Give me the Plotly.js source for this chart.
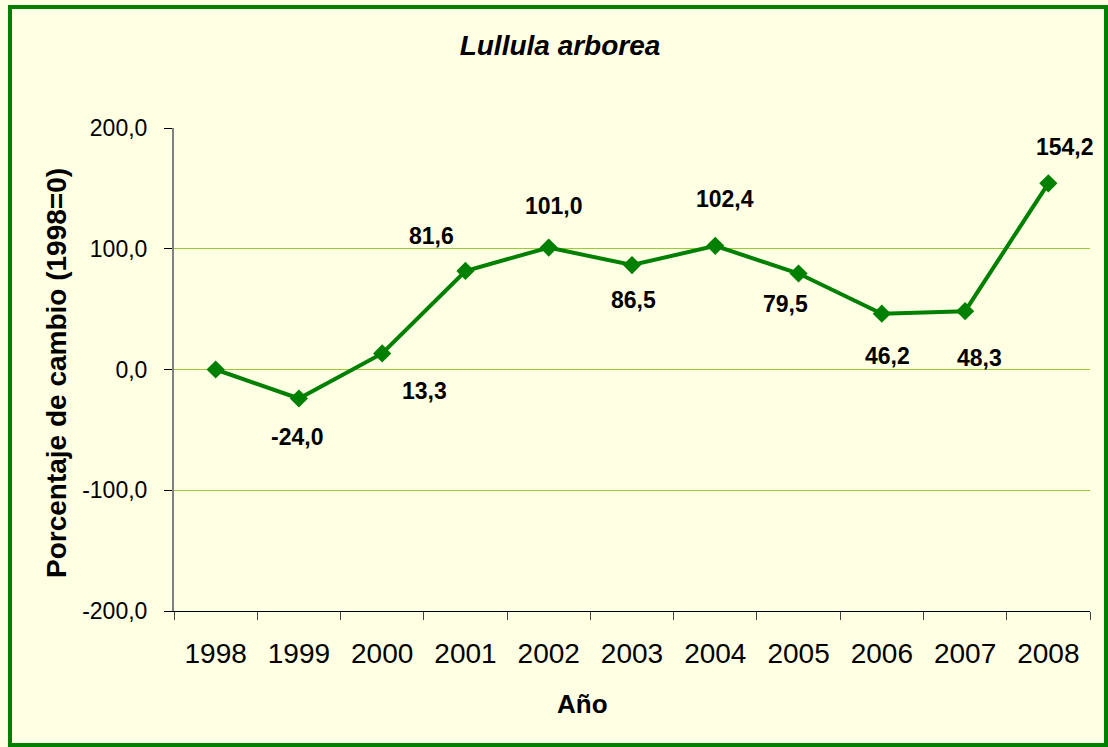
<!DOCTYPE html>
<html>
<head>
<meta charset="utf-8">
<script src="https://cdn.plot.ly/plotly-3.0.1.min.js"></script>
<style>
html,body{margin:0;padding:0;background:#FFFFE4;}
#chart{width:1108px;height:747px;}
</style>
</head>
<body>
<div id="chart"></div>
<script>
// Data
var years = ['1998','1999','2000','2001','2002','2003','2004','2005','2006','2007','2008'];
var values = [0, -24.0, 13.3, 81.6, 101.0, 86.5, 102.4, 79.5, 46.2, 48.3, 154.2];
var showLabel = [false, true, true, true, true, true, true, true, true, true, true];
// label offsets in pixels (dx right, dy down)
var labelDx = [0, -2, 42, -34, 5, 1, 10, -13, 6, 14, 17];
var labelDy = [0, 39, 38, -35, -42, 35, -47, 30, 42, 47, -36];
var yTicks = [-200, -100, 0, 100, 200];

var W = 1108, H = 747;
var mL = 174, mR = 18, mT = 128, mB = 136;
var pw = W - mL - mR, ph = H - mT - mB;
function px2x(p){ return (p - mL) / pw; }
function px2y(p){ return (H - mB - p) / ph; }

function fmt(v){ return v.toFixed(1).replace('.', ','); }
var FONT = 'Liberation Sans, Arial, sans-serif';

var trace = {
  x: years,
  y: values,
  type: 'scatter',
  mode: 'lines+markers',
  line: {color: '#008000', width: 4},
  marker: {symbol: 'diamond', size: 14, color: '#008000'},
  hoverinfo: 'x+y',
  cliponaxis: false
};

var annotations = [];
for (var i = 0; i < years.length; i++) {
  if (!showLabel[i]) continue;
  annotations.push({
    x: i, y: values[i], xref: 'x', yref: 'y',
    text: '<b>' + fmt(values[i]) + '</b>', showarrow: false,
    xanchor: 'center', yanchor: 'middle',
    xshift: labelDx[i], yshift: -labelDy[i],
    font: {family: FONT, size: 23, color: '#000000'}
  });
}
// axis titles
annotations.push({
  xref: 'paper', yref: 'paper', x: px2x(582), y: px2y(704),
  xanchor: 'center', yanchor: 'middle', showarrow: false,
  text: '<b>Año</b>', font: {family: FONT, size: 26, color: '#000000'}
});
annotations.push({
  xref: 'paper', yref: 'paper', x: px2x(56), y: px2y(373),
  xanchor: 'center', yanchor: 'middle', showarrow: false, textangle: -90,
  text: '<b>Porcentaje de cambio (1998=0)</b>', font: {family: FONT, size: 28, color: '#000000'}
});

var layout = {
  width: W, height: H,
  autosize: false,
  margin: {l: mL, r: mR, t: mT, b: mB, pad: 0},
  paper_bgcolor: '#FFFFE4',
  plot_bgcolor: '#FFFFE4',
  showlegend: false,
  font: {family: FONT, color: '#000000'},
  title: {
    text: '<b><i>Lullula arborea</i></b>',
    font: {family: FONT, size: 28, color: '#000000'},
    xref: 'container', yref: 'container',
    x: 560 / W, xanchor: 'center',
    y: 1 - 45 / H, yanchor: 'middle'
  },
  xaxis: {
    type: 'category',
    range: [-0.5, 10.5],
    tickson: 'boundaries',
    ticks: 'outside', ticklen: 8, tickcolor: '#404040', tickwidth: 1,
    showline: true, linecolor: '#000000', linewidth: 1,
    showgrid: false, zeroline: false,
    tickfont: {size: 28, family: FONT, color: '#000000'},
    ticklabelstandoff: 17,
    fixedrange: true
  },
  yaxis: {
    range: [-200, 200],
    tickvals: yTicks,
    ticktext: yTicks.map(fmt),
    ticks: 'outside', ticklen: 8, tickcolor: '#000000', tickwidth: 1,
    showline: true, linecolor: '#808080', linewidth: 2,
    showgrid: true, gridcolor: '#99CC33', gridwidth: 1,
    zeroline: false,
    tickfont: {size: 23, family: FONT, color: '#000000'},
    ticklabelstandoff: 12,
    fixedrange: true
  },
  annotations: annotations,
  shapes: [{
    type: 'rect', xref: 'paper', yref: 'paper',
    x0: px2x(10), x1: px2x(1106), y0: px2y(745), y1: px2y(7),
    line: {color: '#008000', width: 4},
    fillcolor: 'rgba(0,0,0,0)', layer: 'above'
  }]
};

Plotly.newPlot('chart', [trace], layout, {displayModeBar: false, staticPlot: true});
</script>
</body>
</html>
